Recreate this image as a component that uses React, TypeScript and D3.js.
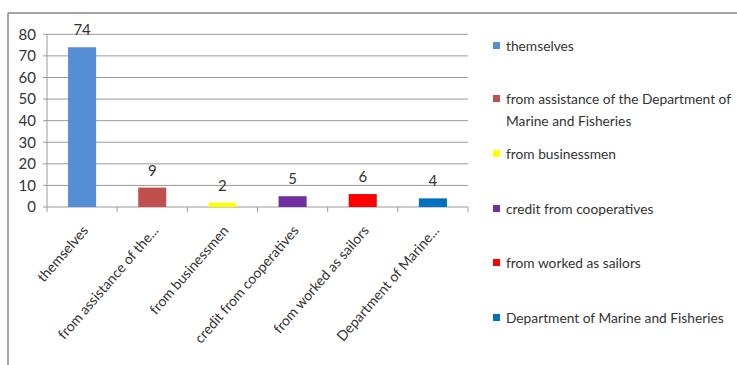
import React from "react";
import * as d3 from "d3";

const categories = [
  "themselves",
  "from assistance of the...",
  "from businessmen",
  "credit from cooperatives",
  "from worked as sailors",
  "Department of Marine...",
];
const values = [74, 9, 2, 5, 6, 4];
const colors = ["#558ED5", "#C0504D", "#FFFF00", "#7030A0", "#FF0000", "#0070C0"];
const legendLabels = [
  ["themselves"],
  ["from assistance of the Department of", "Marine and Fisheries"],
  ["from businessmen"],
  ["credit from cooperatives"],
  ["from worked as sailors"],
  ["Department of Marine and Fisheries"],
];
const yTicks = [0, 10, 20, 30, 40, 50, 60, 70, 80];

const W = 737;
const H = 365;
const FONT = "Lato, 'Liberation Sans', Arial, sans-serif";

export default function App() {
  const x = d3.scaleBand<number>().domain(d3.range(categories.length)).range([47, 468]).paddingInner(0.6).paddingOuter(0.3);
  const band = d3.scaleBand<number>().domain(d3.range(categories.length)).range([47, 468]);
  const y = d3.scaleLinear().domain([0, 80]).range([207, 34.3]);
  const legendY = [46, 99, 154, 209, 263, 318];

  return (
    <svg width={W} height={H} style={{ position: "absolute", left: 0, top: 0, background: "#fff" }}>
      <rect x={0} y={0} width={W} height={H} fill="#fff" />
      <line x1={8} x2={W} y1={13} y2={13} stroke="#888" strokeWidth={1.5} />
      <line x1={8} x2={8} y1={13} y2={H} stroke="#888" strokeWidth={1.5} />
      {yTicks.map((t) => (
        <g key={t}>
          <line x1={43} x2={468} y1={y(t)} y2={y(t)} stroke="#9a9a9a" strokeWidth={1} />
          <text x={36} y={y(t)} dy="0.36em" textAnchor="end" fontFamily={FONT} fontSize={15} fill="#333">
            {t}
          </text>
        </g>
      ))}
      <line x1={47} x2={47} y1={y(80)} y2={y(0)} stroke="#9a9a9a" strokeWidth={1} />
      {d3.range(categories.length + 1).map((i) => {
        const xx = i < categories.length ? band(i)! : 468;
        return <line key={i} x1={xx} x2={xx} y1={y(0)} y2={y(0) + 5} stroke="#9a9a9a" strokeWidth={1} />;
      })}
      {values.map((v, i) => (
        <g key={i}>
          <rect x={x(i)} y={y(v)} width={x.bandwidth()} height={y(0) - y(v)} fill={colors[i]} />
          <text x={x(i)! + x.bandwidth() / 2} y={y(v) - 12} textAnchor="middle" fontFamily={FONT} fontSize={15} fill="#333">
            {v}
          </text>
        </g>
      ))}
      {categories.map((c, i) => {
        const cx = band(i)! + band.bandwidth() / 2 + 7;
        const cy = 231;
        return (
          <text key={c} x={cx} y={cy} transform={`rotate(-49 ${cx} ${cy})`} textAnchor="end" fontFamily={FONT} fontSize={14} fill="#333">
            {c}
          </text>
        );
      })}
      {legendLabels.map((lines, i) => (
        <g key={i}>
          <rect x={493} y={legendY[i] - 4} width={7} height={7} fill={colors[i]} />
          {lines.map((l, j) => (
            <text key={j} x={506} y={legendY[i] + j * 22} dy="0.35em" fontFamily={FONT} fontSize={13.75} fill="#333">
              {l}
            </text>
          ))}
        </g>
      ))}
    </svg>
  );
}
